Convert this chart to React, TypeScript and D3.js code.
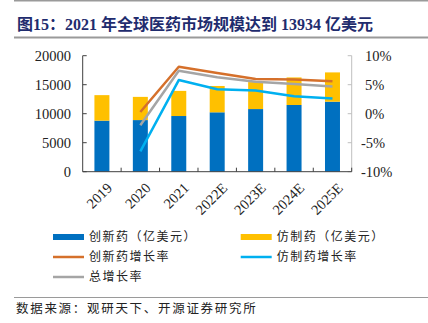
import React from 'react';
import * as d3 from 'd3';

const categories = ['2019', '2020', '2021', '2022E', '2023E', '2024E', '2025E'];
const innovative = [8800, 8900, 9600, 10240, 10800, 11500, 12070];
const totals = [13200, 12900, 13934, 14780, 15450, 16250, 17120];
const generic = totals.map((t, i) => t - innovative[i]);
const innovGrowth: (number | null)[] = [null, 0.3, 8.1, 7.0, 6.0, 5.9, 5.6];
const genericGrowth: (number | null)[] = [null, -6.5, 5.8, 4.2, 4.0, 3.0, 2.6];
const totalGrowth: (number | null)[] = [null, -2.0, 7.4, 6.3, 5.5, 5.1, 4.7];
const leftTicks = [0, 5000, 10000, 15000, 20000];
const rightTicks = [-10, -5, 0, 5, 10];

const W = 428, H = 323;
const L = 82.7, R = 351.7, T = 55.7, B = 171.7;
const cjk = '"Noto Sans CJK SC", sans-serif';
const serif = '"Liberation Serif", "Times New Roman", serif';

export default function App() {
  const x = d3.scaleBand<string>().domain(categories).range([L, R]).paddingInner(0.61).paddingOuter(0.305);
  const yL = d3.scaleLinear().domain([0, 20000]).range([B, T]);
  const yR = d3.scaleLinear().domain([-10, 10]).range([B, T]);
  const step = x.step();
  const cx = (c: string) => (x(c) as number) + x.bandwidth() / 2;

  const line = d3.line<[string, number | null]>()
    .defined(d => d[1] !== null)
    .x(d => cx(d[0]))
    .y(d => yR(d[1] as number));

  const series = [
    { vals: innovGrowth, color: '#D5702B' },
    { vals: totalGrowth, color: '#A5A5A5' },
    { vals: genericGrowth, color: '#00B0F0' },
  ];

  const legendRows = [
    { x: 53, y: 237, type: 'bar', color: '#0070C0', label: '创新药（亿美元）' },
    { x: 240.7, y: 237, type: 'bar', color: '#FFC000', label: '仿制药（亿美元）' },
    { x: 53, y: 257, type: 'line', color: '#D5702B', label: '创新药增长率' },
    { x: 240.7, y: 257, type: 'line', color: '#00B0F0', label: '仿制药增长率' },
    { x: 53, y: 277, type: 'line', color: '#A5A5A5', label: '总增长率' },
  ];

  return (
    <svg width={W} height={H} style={{ position: 'absolute', left: 0, top: 0, background: '#fff' }}>
      <line x1={14} x2={428} y1={0.75} y2={0.75} stroke="#9a9a9a" strokeWidth={1.5} />
      <text x={17} y={30} fontFamily={`"Liberation Serif", "Noto Sans CJK SC", serif`} fontWeight="bold" fontSize={16} fill="#1F2C6E">
        图15：2021 年全球医药市场规模达到 13934 亿美元
      </text>
      <line x1={14} x2={428} y1={37.5} y2={37.5} stroke="#9a9a9a" strokeWidth={2} />

      {/* bars */}
      {categories.map((c, i) => (
        <g key={c}>
          <rect x={x(c)} width={x.bandwidth()} y={yL(innovative[i])} height={yL(0) - yL(innovative[i])} fill="#0070C0" />
          <rect x={x(c)} width={x.bandwidth()} y={yL(totals[i])} height={yL(innovative[i]) - yL(totals[i])} fill="#FFC000" />
        </g>
      ))}

      {/* lines */}
      {series.map((s, k) => (
        <path key={k} d={line(categories.map((c, i) => [c, s.vals[i]])) || ''} fill="none" stroke={s.color} strokeWidth={2.5} strokeLinejoin="round" />
      ))}

      {/* left axis */}
      <line x1={L} x2={L} y1={T} y2={B} stroke="#404040" strokeWidth={1} />
      {leftTicks.map(t => (
        <g key={t}>
          <line x1={L} x2={L + 4} y1={yL(t)} y2={yL(t)} stroke="#404040" />
          <text x={71} y={yL(t)} dy="0.35em" textAnchor="end" fontFamily={serif} fontSize={14.5} fill="#222">{t}</text>
        </g>
      ))}

      {/* right axis */}
      <line x1={R} x2={R} y1={T} y2={B} stroke="#BFBFBF" strokeWidth={1} />
      {rightTicks.map(t => (
        <g key={t}>
          <line x1={R - 4} x2={R} y1={yR(t)} y2={yR(t)} stroke="#BFBFBF" />
          <text x={t < 0 ? 361 : 365} y={yR(t)} dy="0.35em" textAnchor="start" fontFamily={serif} fontSize={14.5} fill="#222">{t}%</text>
        </g>
      ))}

      {/* x axis */}
      <line x1={L} x2={R} y1={B} y2={B} stroke="#404040" strokeWidth={1} />
      {categories.map((c, i) => (
        <line key={'t' + c} x1={L + step * (i + 1)} x2={L + step * (i + 1)} y1={B} y2={B - 4} stroke="#404040" />
      ))}
      {categories.map(c => (
        <text key={'l' + c} transform={`translate(${cx(c) + 4},${B + 10}) rotate(-45)`} textAnchor="end" dy="0.7em" fontFamily={serif} fontSize={14.5} fill="#222">{c}</text>
      ))}

      {/* legend */}
      {legendRows.map(r => (
        <g key={r.label}>
          {r.type === 'bar'
            ? <rect x={r.x} y={r.y - 3} width={31} height={6} fill={r.color} />
            : <line x1={r.x} x2={r.x + 31} y1={r.y} y2={r.y} stroke={r.color} strokeWidth={2.5} />}
          <text x={r.x + 36} y={r.y} dy="0.36em" fontFamily={cjk} fontSize={12} letterSpacing={1.5} fill="#222">{r.label}</text>
        </g>
      ))}

      <line x1={14} x2={428} y1={297.5} y2={297.5} stroke="#9a9a9a" strokeWidth={1} />
      <text x={16} y={308} dy="0.36em" fontFamily={cjk} fontSize={12.5} letterSpacing={1.7} fill="#222">数据来源：观研天下、开源证券研究所</text>
    </svg>
  );
}
